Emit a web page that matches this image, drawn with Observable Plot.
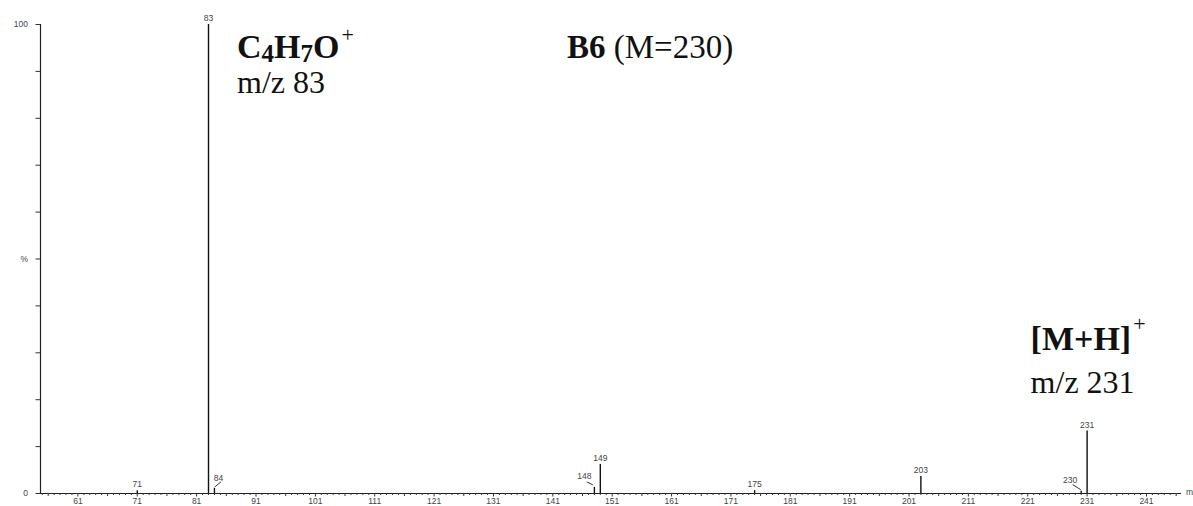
<!DOCTYPE html>
<html><head><meta charset="utf-8">
<script src="https://cdn.jsdelivr.net/npm/d3@7"></script>
<script src="https://cdn.jsdelivr.net/npm/@observablehq/plot@0.6"></script>
<style>
html,body{margin:0;padding:0;background:#fff;}
#chart{position:relative;width:1193px;height:506px;overflow:hidden;}
#chart svg{overflow:visible;}
</style></head><body><div id="chart"></div>
<script>
// ---- data ----
const mzValues = [71, 83, 84, 148, 149, 175, 203, 230, 231];
const intensities = [0.6, 100, 1.1, 1.3, 6.2, 0.6, 3.6, 0.5, 13.3];
const xTickLabels = [61, 71, 81, 91, 101, 111, 121, 131, 141, 151, 161, 171, 181, 191, 201, 211, 221, 231, 241];
const xMidTicks = [56, 66, 76, 86, 96, 106, 116, 126, 136, 146, 156, 166, 176, 186, 196, 206, 216, 226, 236, 246];
const yTickValues = [0, 10, 20, 30, 40, 50, 60, 70, 80, 90, 100];
const yTickText = {0: "0", 50: "%", 100: "100"};
const xDomain = [54.7, 246.9];

// ---- layout ----
const W = 1193, H = 506;
const M = {top: 24, right: 12, bottom: 13, left: 40};
const pxPerX = (W - M.left - M.right) / (xDomain[1] - xDomain[0]);
const pxPerY = (H - M.top - M.bottom) / 100;
// leader-line label placement (pixels)
const leaderStyle = {
  84:  {lx: 4,   ly: -10.5, x1: 0.5, y1: -1.5, x2: 6.5,  y2: -6.5},
  148: {lx: -10, ly: -11,   x1: -1.5, y1: -2.5, x2: -7.5, y2: -5.5},
  230: {lx: -11, ly: -10.5, x1: -0.5, y1: -1.5, x2: -8.5, y2: -6.5}
};

const peaks = mzValues.map((m, i) => ({mz: m, intensity: intensities[i], label: String(m)}));
const plainPeaks = peaks.filter(d => !leaderStyle[d.mz]);
const ledPeaks = peaks.filter(d => leaderStyle[d.mz]);
const minorTicks = d3.range(55, 247).filter(v => !xTickLabels.includes(v) && !xMidTicks.includes(v));

const tickFont = "Liberation Sans, Arial, sans-serif";
const marks = [
  // axis lines
  Plot.ruleY([0], {stroke: "#222", strokeWidth: 1}),
  Plot.ruleX([xDomain[0]], {y1: 0, y2: 100, stroke: "#222", strokeWidth: 1.2}),
  // x ticks
  Plot.axisX({ticks: minorTicks, tickSize: 2, tickFormat: () => "", label: null, stroke: "#333"}),
  Plot.axisX({ticks: xMidTicks, tickSize: 3, tickFormat: () => "", label: null, stroke: "#333"}),
  Plot.axisX({ticks: xTickLabels, tickSize: 3.5, tickPadding: 1, tickFormat: d => String(d), label: null,
              fontSize: 8.5, fontFamily: tickFont, fill: "#444", stroke: "#333"}),
  // y ticks
  Plot.axisY({ticks: yTickValues, tickSize: 4.5, tickPadding: 8, tickFormat: d => yTickText[d] || "", label: null,
              fontSize: 8.5, fontFamily: tickFont, fill: "#444", stroke: "#333"}),
  // peaks
  Plot.ruleX(peaks, {x: "mz", y1: 0, y2: "intensity", stroke: "#111", strokeWidth: 1.4}),
  Plot.text(plainPeaks, {x: "mz", y: "intensity", text: "label", dy: -6, fontSize: 8.5,
                         fontFamily: tickFont, fill: "#444"})
];
for (const d of ledPeaks) {
  const s = leaderStyle[d.mz];
  marks.push(Plot.text([d], {x: "mz", y: "intensity", text: "label", dx: s.lx, dy: s.ly,
                             fontSize: 8.5, fontFamily: tickFont, fill: "#444"}));
  marks.push(Plot.link([d], {
    x1: p => p.mz + s.x1 / pxPerX, y1: p => p.intensity - s.y1 / pxPerY,
    x2: p => p.mz + s.x2 / pxPerX, y2: p => p.intensity - s.y2 / pxPerY,
    stroke: "#333", strokeWidth: 1
  }));
}

const chart = Plot.plot({
  width: W, height: H,
  marginTop: M.top, marginRight: M.right, marginBottom: M.bottom, marginLeft: M.left,
  x: {domain: xDomain, axis: null, label: null},
  y: {domain: [0, 100], axis: null, label: null},
  style: {background: "#fff"},
  marks
});
document.getElementById("chart").appendChild(chart);

// ---- rich-text annotations ----
const svg = d3.select(chart);
const serif = "Liberation Serif, Times New Roman, serif";
const xs = chart.scale("x");
function rich(x, y, size, parts) {
  const t = svg.append("text").attr("x", x).attr("y", y).attr("text-anchor", "start")
    .attr("font-family", serif).attr("font-size", size).attr("fill", "#111");
  for (const p of parts) {
    const ts = t.append("tspan").text(p.t);
    if (p.b) ts.attr("font-weight", "bold");
    if (p.s) ts.attr("font-size", p.s);
    if (p.dy) ts.attr("dy", p.dy);
    if (p.dx) ts.attr("dx", p.dx);
  }
  return t;
}
const x83 = xs.apply(83), x231 = xs.apply(231);
rich(x83 + 29, 58, 34, [
  {t: "C", b: 1}, {t: "4", b: 1, s: 25, dy: 4}, {t: "H", b: 1, dy: -4}, {t: "7", b: 1, s: 25, dy: 4},
  {t: "O", b: 1, dy: -4}, {t: "+", s: 22, dy: -16, dx: 2}
]);
rich(x83 + 29, 93, 32, [{t: "m/z 83"}]);
rich(567, 58, 33, [{t: "B6", b: 1}, {t: " (M=230)"}]);
rich(x231 - 56, 350, 34, [{t: "[M+H]", b: 1}, {t: "+", s: 22, dy: -19, dx: 2}]);
rich(x231 - 56, 393, 32, [{t: "m/z 231"}]);
// x-axis unit label (clipped at right edge as in reference)
svg.append("text").attr("x", W - M.right + 5).attr("y", H - M.bottom + 2).attr("text-anchor", "start")
  .attr("font-family", tickFont).attr("font-size", 8.5).attr("fill", "#444").text("m/z");
</script></body></html>
